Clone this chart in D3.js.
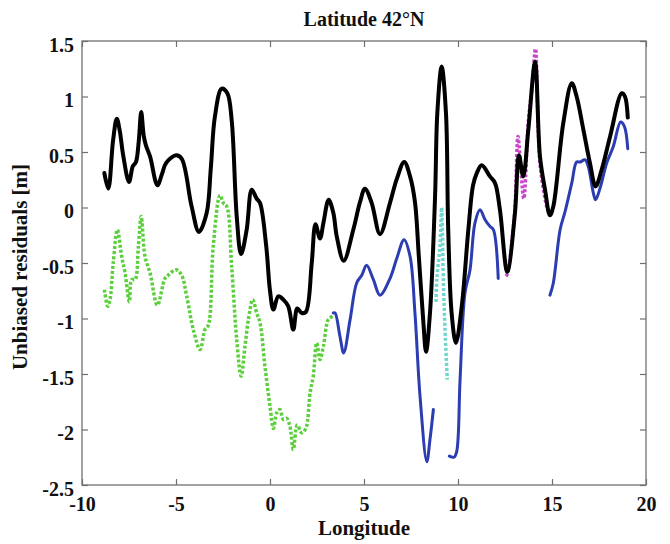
<!DOCTYPE html>
<html>
<head>
<meta charset="utf-8">
<script src="https://cdn.jsdelivr.net/npm/d3@7"></script>
<style>
  html, body { margin: 0; padding: 0; background: #fff; }
  svg text { font-family: "Liberation Serif", "Times New Roman", serif; font-weight: bold; fill: #111; }
</style>
</head>
<body>
<svg id="chart" width="670" height="544"></svg>
<script>
// Unbiased residuals along latitude 42°N, per mission track
const blackLon = [-8.81,-8.60,-8.35,-8.15,-8.00,-7.80,-7.50,-7.30,-7.13,-6.98,-6.85,-6.72,-6.60,-6.38,-5.99,-5.75,-5.53,-5.00,-4.70,-4.17,-3.78,-3.37,-3.15,-2.93,-2.57,-2.27,-2.04,-1.77,-1.54,-1.24,-0.97,-0.71,-0.53,-0.20,0.00,0.18,0.44,0.71,0.97,1.24,1.45,1.69,1.91,2.22,2.42,2.66,2.84,3.12,3.37,3.55,3.92,4.43,4.79,5.05,5.41,5.85,6.38,6.75,7.14,7.45,7.71,7.92,8.16,8.30,8.51,8.78,8.90,9.13,9.36,9.48,9.66,9.89,10.20,10.55,10.80,11.00,11.26,11.70,11.97,12.23,12.62,13.03,13.24,13.47,13.74,14.10,14.36,14.63,14.89,15.07,15.60,16.05,16.31,16.67,17.02,17.32,17.64,18.09,18.71,18.88,19.03];
const blackRes = [0.31,0.17,0.60,0.80,0.70,0.46,0.23,0.37,0.41,0.60,0.86,0.65,0.56,0.46,0.20,0.30,0.40,0.47,0.44,0.01,-0.22,-0.05,0.35,0.82,1.07,1.03,0.79,-0.08,-0.42,-0.20,0.16,0.08,0.04,-0.35,-0.75,-0.92,-0.80,-0.83,-0.89,-1.10,-0.91,-0.95,-0.94,-0.50,-0.15,-0.28,-0.14,0.07,-0.05,-0.26,-0.48,-0.20,0.05,0.17,0.04,-0.24,0.04,0.26,0.41,0.28,0.05,-0.45,-1.04,-1.30,-0.95,0.10,0.85,1.27,0.85,-0.20,-0.95,-1.22,-0.89,-0.20,0.20,0.31,0.38,0.28,0.22,-0.02,-0.58,-0.05,0.47,0.28,0.70,1.31,0.46,0.16,-0.07,0.01,0.76,1.12,1.00,0.70,0.40,0.19,0.34,0.64,1.03,1.00,0.81];

const greenLon = [-8.81,-8.63,-8.51,-8.34,-8.12,-7.89,-7.71,-7.48,-7.36,-7.18,-7.00,-6.85,-6.65,-6.38,-5.99,-5.59,-5.41,-5.00,-4.70,-4.43,-4.08,-3.72,-3.46,-3.28,-3.02,-2.66,-2.48,-2.30,-2.04,-1.77,-1.54,-1.33,-1.15,-0.92,-0.71,-0.53,-0.27,0.00,0.18,0.36,0.53,0.71,0.89,1.06,1.24,1.45,1.69,1.91,2.13,2.30,2.48,2.66,2.84,3.10,3.34];
const greenRes = [-0.74,-0.89,-0.83,-0.50,-0.20,-0.44,-0.59,-0.85,-0.65,-0.65,-0.35,-0.08,-0.44,-0.59,-0.88,-0.64,-0.61,-0.56,-0.61,-0.80,-1.10,-1.28,-1.10,-1.06,-0.35,0.11,0.04,0.01,-0.53,-1.19,-1.52,-1.25,-1.01,-0.83,-0.95,-1.04,-1.43,-1.79,-1.99,-1.85,-1.82,-1.91,-1.90,-1.97,-2.18,-1.96,-2.03,-1.99,-1.67,-1.52,-1.22,-1.37,-1.25,-1.01,-0.98];

const blueLon1 = [3.37,3.46,3.72,3.92,4.26,4.61,4.88,5.14,5.50,5.85,6.38,6.74,7.13,7.45,7.71,7.98,8.34,8.51,8.69];
const blueRes1 = [-0.95,-0.95,-1.16,-1.31,-1.01,-0.68,-0.61,-0.52,-0.65,-0.79,-0.64,-0.46,-0.29,-0.44,-0.95,-1.70,-2.29,-2.09,-1.82];
const blueLon2 = [9.54,9.79,9.93,10.11,10.37,10.64,10.90,11.17,11.44,11.70,11.88,12.14];
const blueRes2 = [-2.24,-2.25,-2.20,-1.55,-0.77,-0.56,-0.14,-0.02,-0.11,-0.17,-0.20,-0.64];
const blueLon3 = [14.89,15.07,15.43,15.69,16.05,16.31,16.49,16.76,16.93,17.20,17.32,17.55,17.91,18.26,18.65,18.85,19.03];
const blueRes3 = [-0.79,-0.68,-0.20,-0.04,0.22,0.41,0.41,0.43,0.37,0.13,0.07,0.17,0.40,0.55,0.77,0.73,0.53];

const cyanLon = [8.83,8.87,9.04,9.13,9.22,9.31,9.43];
const cyanRes = [-0.85,-0.65,-0.35,0.00,-0.65,-1.10,-1.55];

const magentaLon = [12.55,12.62,13.00,13.19,13.32,13.50,13.74,13.95,14.12,14.36,14.72,14.89];
const magentaRes = [-0.62,-0.60,-0.08,0.64,0.40,0.08,0.77,1.10,1.43,0.40,0.01,-0.07];

const xTicks = [-10,-5,0,5,10,15,20];
const yTicks = [1.5,1,0.5,0,-0.5,-1,-1.5,-2,-2.5];

const svg = d3.select("#chart");
const m = { left: 82, right: 646, top: 41, bottom: 485 };

const x = d3.scaleLinear().domain([-10, 20]).range([m.left, m.right]);
const y = d3.scaleLinear().domain([-2.5, 1.5]).range([m.bottom, m.top]);

const zip = (a, b) => a.map((v, i) => [v, b[i]]);
const line = d3.line().x(d => x(d[0])).y(d => y(d[1])).curve(d3.curveCatmullRom.alpha(0.5));

const axisColor = "#707070";

// frame
svg.append("rect")
  .attr("x", m.left).attr("y", m.top)
  .attr("width", m.right - m.left).attr("height", m.bottom - m.top)
  .attr("fill", "none").attr("stroke", axisColor).attr("stroke-width", 1.3);

// axes with inward ticks; labels use a plain hyphen for negatives
const fmt = d => String(d);
const gx = svg.append("g").attr("transform", `translate(0,${m.bottom})`)
  .call(d3.axisBottom(x).tickValues(xTicks).tickSize(-6).tickPadding(15).tickFormat(fmt));
const gxTop = svg.append("g").attr("transform", `translate(0,${m.top})`)
  .call(d3.axisTop(x).tickValues(xTicks).tickSize(-6).tickFormat(""));
const gy = svg.append("g").attr("transform", `translate(${m.left},0)`)
  .call(d3.axisLeft(y).tickValues(yTicks).tickSize(-6).tickPadding(8).tickFormat(fmt));
const gyRight = svg.append("g").attr("transform", `translate(${m.right},0)`)
  .call(d3.axisRight(y).tickValues(yTicks).tickSize(-6).tickFormat(""));

[gx, gxTop, gy, gyRight].forEach(g => {
  g.select(".domain").remove();
  g.selectAll(".tick line").attr("stroke", axisColor).attr("stroke-width", 1.2);
  g.selectAll("text").attr("font-size", 20).attr("fill", "#111")
    .attr("font-family", '"Liberation Serif", serif').attr("font-weight", "bold");
});
gy.selectAll("text").attr("dy", "0.5em");
gx.selectAll("text").attr("dy", "0.55em");

// data lines: dotted tracks, then solid tracks on top
const dotted = [
  { lon: greenLon, res: greenRes, color: "#5ccf3c" },
  { lon: cyanLon, res: cyanRes, color: "#6fd6cf" },
  { lon: magentaLon, res: magentaRes, color: "#c948c9" }
];
dotted.forEach(s => {
  svg.append("path").datum(zip(s.lon, s.res))
    .attr("d", line).attr("fill", "none")
    .attr("stroke", s.color).attr("stroke-width", 3.5)
    .attr("stroke-dasharray", "3,2");
});

[[blueLon1, blueRes1], [blueLon2, blueRes2], [blueLon3, blueRes3]].forEach(([lo, re]) => {
  svg.append("path").datum(zip(lo, re))
    .attr("d", line).attr("fill", "none")
    .attr("stroke", "#2b3db0").attr("stroke-width", 3)
    .attr("stroke-linejoin", "round").attr("stroke-linecap", "round");
});

svg.append("path").datum(zip(blackLon, blackRes))
  .attr("d", line).attr("fill", "none")
  .attr("stroke", "#000").attr("stroke-width", 4)
  .attr("stroke-linejoin", "round").attr("stroke-linecap", "round");

// titles
svg.append("text").attr("x", (m.left + m.right) / 2).attr("y", 26)
  .attr("text-anchor", "middle").attr("font-size", 20).text("Latitude 42°N");
svg.append("text").attr("x", (m.left + m.right) / 2).attr("y", 535)
  .attr("text-anchor", "middle").attr("font-size", 21).text("Longitude");
svg.append("text").attr("transform", `translate(27,${(m.top + m.bottom) / 2 + 4}) rotate(-90)`)
  .attr("text-anchor", "middle").attr("font-size", 21).text("Unbiased residuals [m]");
</script>
</body>
</html>
